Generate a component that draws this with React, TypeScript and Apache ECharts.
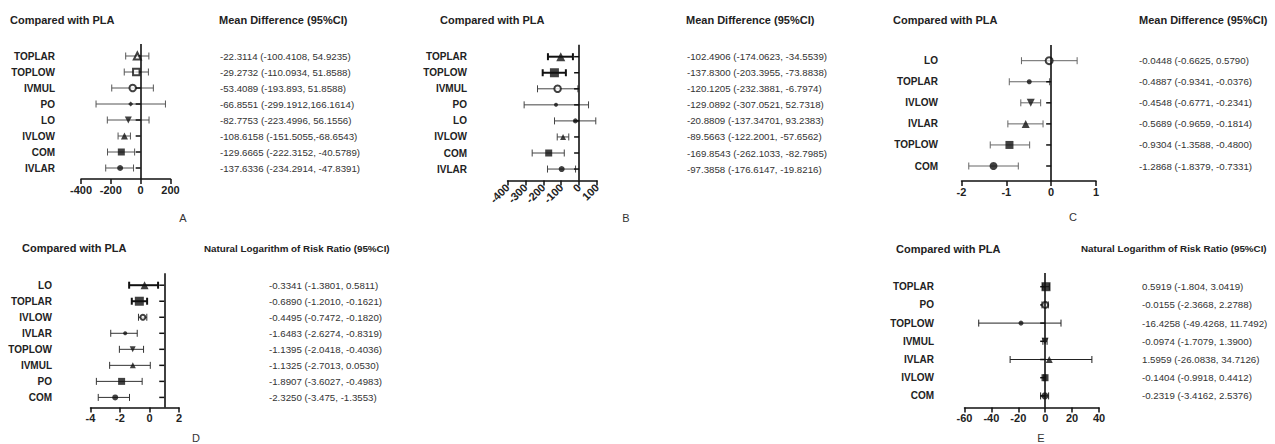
import React, { useEffect, useRef } from "react";
import * as echarts from "echarts";

const FONT = "Arial, 'Liberation Sans', Helvetica, sans-serif";

// ---------- Panel A ----------
const aLabels = ["TOPLAR", "TOPLOW", "IVMUL", "PO", "LO", "IVLOW", "COM", "IVLAR"];
const aMean = [-22.3114, -29.2732, -53.4089, -66.8551, -82.7753, -108.6158, -129.6665, -137.6336];
const aLow = [-100.4108, -110.0934, -193.893, -299.1912, -223.4996, -151.5055, -222.3152, -234.2914];
const aHigh = [54.9235, 51.8588, 85, 166.1614, 56.1556, -68.6543, -40.5789, -47.8391];
const aTexts = [
  "-22.3114 (-100.4108, 54.9235)",
  "-29.2732 (-110.0934, 51.8588)",
  "-53.4089 (-193.893, 51.8588)",
  "-66.8551 (-299.1912,166.1614)",
  "-82.7753 (-223.4996, 56.1556)",
  "-108.6158 (-151.5055,-68.6543)",
  "-129.6665 (-222.3152, -40.5789)",
  "-137.6336 (-234.2914, -47.8391)",
];
const aXTicks = [-400, 200, 200];

// ---------- Panel B ----------
const bLabels = ["TOPLAR", "TOPLOW", "IVMUL", "PO", "LO", "IVLOW", "COM", "IVLAR"];
const bMean = [-102.4906, -137.83, -120.1205, -129.0892, -20.8809, -89.5663, -169.8543, -97.3858];
const bLow = [-174.0623, -203.3955, -232.3881, -307.0521, -137.34701, -122.2001, -262.1033, -176.6147];
const bHigh = [-34.5539, -73.8838, -6.7974, 52.7318, 93.2383, -57.6562, -82.7985, -19.8216];
const bTexts = [
  "-102.4906 (-174.0623, -34.5539)",
  "-137.8300 (-203.3955, -73.8838)",
  "-120.1205 (-232.3881, -6.7974)",
  "-129.0892 (-307.0521, 52.7318)",
  "-20.8809 (-137.34701, 93.2383)",
  "-89.5663 (-122.2001, -57.6562)",
  "-169.8543 (-262.1033, -82.7985)",
  "-97.3858 (-176.6147, -19.8216)",
];
const bXTicks = [-400, 100, 100];

// ---------- Panel C ----------
const cLabels = ["LO", "TOPLAR", "IVLOW", "IVLAR", "TOPLOW", "COM"];
const cMean = [-0.0448, -0.4887, -0.4548, -0.5689, -0.9304, -1.2868];
const cLow = [-0.6625, -0.9341, -0.6771, -0.9659, -1.3588, -1.8379];
const cHigh = [0.579, -0.0376, -0.2341, -0.1814, -0.48, -0.7331];
const cTexts = [
  "-0.0448 (-0.6625, 0.5790)",
  "-0.4887 (-0.9341, -0.0376)",
  "-0.4548 (-0.6771, -0.2341)",
  "-0.5689 (-0.9659, -0.1814)",
  "-0.9304 (-1.3588, -0.4800)",
  "-1.2868 (-1.8379, -0.7331)",
];
const cXTicks = [-2, 1, 1];

// ---------- Panel D ----------
const dLabels = ["LO", "TOPLAR", "IVLOW", "IVLAR", "TOPLOW", "IVMUL", "PO", "COM"];
const dMean = [-0.3341, -0.689, -0.4495, -1.6483, -1.1395, -1.1325, -1.8907, -2.325];
const dLow = [-1.3801, -1.201, -0.7472, -2.6274, -2.0418, -2.7013, -3.6027, -3.475];
const dHigh = [0.5811, -0.1621, -0.182, -0.8319, -0.4036, 0.053, -0.4983, -1.3553];
const dTexts = [
  "-0.3341 (-1.3801, 0.5811)",
  "-0.6890 (-1.2010, -0.1621)",
  "-0.4495 (-0.7472, -0.1820)",
  "-1.6483 (-2.6274, -0.8319)",
  "-1.1395 (-2.0418, -0.4036)",
  "-1.1325 (-2.7013, 0.0530)",
  "-1.8907 (-3.6027, -0.4983)",
  "-2.3250 (-3.475, -1.3553)",
];
const dXTicks = [-4, 2, 2];

// ---------- Panel E ----------
const eLabels = ["TOPLAR", "PO", "TOPLOW", "IVMUL", "IVLAR", "IVLOW", "COM"];
const eMean = [0.5919, -0.0155, -18, -0.0974, 3, -0.1404, -0.2319];
const eLow = [-1.804, -2.3668, -49.4268, -1.7079, -26.0838, -0.9918, -3.4162];
const eHigh = [3.0419, 2.2788, 11.7492, 1.39, 34.7126, 0.4412, 2.5376];
const eTexts = [
  "0.5919 (-1.804, 3.0419)",
  "-0.0155 (-2.3668, 2.2788)",
  "-16.4258 (-49.4268, 11.7492)",
  "-0.0974 (-1.7079, 1.3900)",
  "1.5959 (-26.0838, 34.7126)",
  "-0.1404 (-0.9918, 0.4412)",
  "-0.2319 (-3.4162, 2.5376)",
];
const eXTicks = [-60, 40, 20];

// ---------- marker styles ----------
const aMarks = ["emptyTriangle", "emptyRect", "emptyCircle", "diamond", "down", "triangle", "rect", "circle"];
const aSizes = [7, 6.5, 6.5, 5, 7, 7, 7, 6];
const bMarks = ["triangle", "rect", "emptyCircle", "circle", "circle", "triangle", "rect", "circle"];
const bSizes = [9, 9, 6.5, 4, 5, 6, 7, 6];
const cMarks = ["emptyCircle", "circle", "down", "triangle", "rect", "circle"];
const cSizes = [7, 5, 8, 8, 8, 8];
const dMarks = ["triangle", "rect", "emptyCircle", "circle", "down", "triangle", "rect", "circle"];
const dSizes = [8, 9, 5, 4, 6, 6, 7, 6];
const eMarks = ["rect", "emptyCircle", "circle", "down", "triangle", "rect", "circle"];
const eSizes = [9, 6, 5, 7, 7, 7, 7];

type Layout = {
  left: number; right: number; row0: number; step: number; bottom: number;
  ref: number; labelRight: number; textX: number; rotate: number;
  barColor: string; thick: number[];
};

const panels = [
  { labels: aLabels, mean: aMean, low: aLow, high: aHigh, texts: aTexts, ticks: aXTicks, marks: aMarks, sizes: aSizes,
    L: { left: 81, right: 170.5, row0: 56, step: 16, bottom: 179, ref: 0, labelRight: 55, textX: 220, rotate: 0, barColor: "#555", thick: [] } as Layout },
  { labels: bLabels, mean: bMean, low: bLow, high: bHigh, texts: bTexts, ticks: bXTicks, marks: bMarks, sizes: bSizes,
    L: { left: 507.5, right: 597, row0: 56.7, step: 16.05, bottom: 180.5, ref: 0, labelRight: 467, textX: 687, rotate: 45, barColor: "#444", thick: [0, 1] } as Layout },
  { labels: cLabels, mean: cMean, low: cLow, high: cHigh, texts: cTexts, ticks: cXTicks, marks: cMarks, sizes: cSizes,
    L: { left: 961.5, right: 1096, row0: 60.7, step: 21.06, bottom: 181, ref: 0, labelRight: 938, textX: 1139, rotate: 0, barColor: "#666", thick: [] } as Layout },
  { labels: dLabels, mean: dMean, low: dLow, high: dHigh, texts: dTexts, ticks: dXTicks, marks: dMarks, sizes: dSizes,
    L: { left: 90.5, right: 179, row0: 285.2, step: 16.03, bottom: 407.5, ref: 1, labelRight: 52, textX: 269, rotate: 0, barColor: "#333", thick: [0, 1] } as Layout },
  { labels: eLabels, mean: eMean, low: eLow, high: eHigh, texts: eTexts, ticks: eXTicks, marks: eMarks, sizes: eSizes,
    L: { left: 964.5, right: 1099, row0: 286.7, step: 18.2, bottom: 407.5, ref: 0, labelRight: 934, textX: 1142, rotate: 0, barColor: "#222", thick: [] } as Layout },
];

const headerTexts = [
  { text: "Compared with PLA", x: 10, y: 20, size: 11 },
  { text: "Mean Difference (95%CI)", x: 219, y: 20, size: 11 },
  { text: "Compared with PLA", x: 440, y: 20, size: 11 },
  { text: "Mean Difference (95%CI)", x: 686, y: 20, size: 11 },
  { text: "Compared with PLA", x: 893, y: 20, size: 11 },
  { text: "Mean Difference (95%CI)", x: 1139, y: 20, size: 11 },
  { text: "Compared with PLA", x: 22, y: 248, size: 11 },
  { text: "Natural Logarithm of Risk Ratio (95%CI)", x: 204, y: 248, size: 9.8 },
  { text: "Compared with PLA", x: 896, y: 249, size: 11 },
  { text: "Natural Logarithm of Risk Ratio (95%CI)", x: 1081, y: 248, size: 9.8 },
];
const panelLetters = [
  { text: "A", x: 183, y: 212 },
  { text: "B", x: 626, y: 212 },
  { text: "C", x: 1073, y: 211 },
  { text: "D", x: 196, y: 432 },
  { text: "E", x: 1041, y: 432 },
];

function buildOption() {
  const grid: any[] = [];
  const xAxis: any[] = [];
  const yAxis: any[] = [];
  const series: any[] = [];
  const idxLabel = (arr: string[]) => (v: number) => {
    const k = Math.round(v);
    return Math.abs(v - k) < 1e-6 && k >= 0 && k < arr.length ? arr[k] : "";
  };
  panels.forEach((p, i) => {
    const L = p.L;
    const top = L.row0 - 0.75 * L.step;
    const height = L.bottom - top;
    const yMax = -0.75 + height / L.step;
    grid.push({ left: L.left, top, width: L.right - L.left, height });
    xAxis.push({
      gridIndex: i, type: "value", min: p.ticks[0], max: p.ticks[1], interval: p.ticks[2],
      axisLine: { show: true, onZero: false, lineStyle: { color: "#111", width: 1.5 } },
      axisTick: { show: true, length: 5, lineStyle: { color: "#111", width: 1.5 } },
      axisLabel: { margin: 5, fontSize: 11, fontWeight: "bold", color: "#222", fontFamily: FONT, rotate: L.rotate },
      splitLine: { show: false },
    });
    const yBase = {
      gridIndex: i, type: "value", inverse: true, min: -0.75, max: yMax, interval: 0.25,
      axisLine: { show: false }, axisTick: { show: false }, splitLine: { show: false },
    };
    yAxis.push({
      ...yBase, position: "left",
      axisLabel: { margin: L.left - L.labelRight, formatter: idxLabel(p.labels), fontSize: 10, fontWeight: "bold", color: "#222", fontFamily: FONT },
    });
    yAxis.push({
      ...yBase, position: "right", offset: L.textX - L.right,
      axisLabel: { margin: 0, formatter: idxLabel(p.texts), fontSize: 9.7, color: "#333", fontFamily: FONT },
    });
    series.push({
      type: "custom", xAxisIndex: i, yAxisIndex: 2 * i, z: 2, silent: true,
      data: p.labels.map((_, k) => [p.low[k], p.high[k], k]),
      encode: { x: [0, 1], y: 2 },
      renderItem: (params: any, api: any) => {
        const k = api.value(2);
        const lo = api.coord([api.value(0), k]);
        const hi = api.coord([api.value(1), k]);
        const ref = api.coord([L.ref, k]);
        const thick = L.thick.indexOf(k) >= 0;
        const stroke = thick ? "#111" : L.barColor;
        const lw = thick ? 2 : 1;
        const cap = 3.5;
        return {
          type: "group",
          children: [
            { type: "line", shape: { x1: lo[0], y1: lo[1], x2: hi[0], y2: hi[1] }, style: { stroke, lineWidth: lw } },
            { type: "line", shape: { x1: lo[0], y1: lo[1] - cap, x2: lo[0], y2: lo[1] + cap }, style: { stroke, lineWidth: lw } },
            { type: "line", shape: { x1: hi[0], y1: hi[1] - cap, x2: hi[0], y2: hi[1] + cap }, style: { stroke, lineWidth: lw } },
            { type: "line", shape: { x1: ref[0] - 5, y1: ref[1], x2: ref[0], y2: ref[1] }, style: { stroke: "#111", lineWidth: 1.5 } },
          ],
        };
      },
    });
    series.push({
      type: "scatter", xAxisIndex: i, yAxisIndex: 2 * i, z: 3, silent: true,
      data: p.mean.map((m, k) => {
        const mk = p.marks[k];
        const empty = mk.indexOf("empty") === 0;
        return {
          value: [m, k],
          symbol: mk === "down" ? "triangle" : mk,
          symbolRotate: mk === "down" ? 180 : 0,
          symbolSize: p.sizes[k],
          itemStyle: empty
            ? { color: "#111", borderColor: "#111", borderWidth: 1.5 }
            : { color: "#111", borderWidth: 0 },
        };
      }),
      markLine: {
        silent: true, symbol: ["none", "none"], label: { show: false },
        lineStyle: { color: "#111", width: 1.6, type: "solid" },
        data: [{ xAxis: L.ref }],
      },
    });
  });

  const graphic: any[] = [];
  headerTexts.forEach((h) =>
    graphic.push({
      type: "text", x: h.x, y: h.y,
      style: { text: h.text, fill: "#222", font: `bold ${h.size}px ${FONT}`, align: "left", verticalAlign: "middle" },
    })
  );
  panelLetters.forEach((h) =>
    graphic.push({
      type: "text", x: h.x, y: h.y,
      style: { text: h.text, fill: "#333", font: `11px ${FONT}`, align: "center", verticalAlign: "top" },
    })
  );

  return {
    animation: false,
    backgroundColor: "#fff",
    grid, xAxis, yAxis, series, graphic,
  };
}

export default function App() {
  const ref = useRef<HTMLDivElement>(null);
  useEffect(() => {
    if (!ref.current) return;
    const chart = echarts.init(ref.current, undefined, { renderer: "svg" });
    chart.setOption(buildOption() as any);
    return () => chart.dispose();
  }, []);
  return (
    <div
      ref={ref}
      style={{ position: "fixed", left: 0, top: 0, width: 1275, height: 444, background: "#fff" }}
    />
  );
}
